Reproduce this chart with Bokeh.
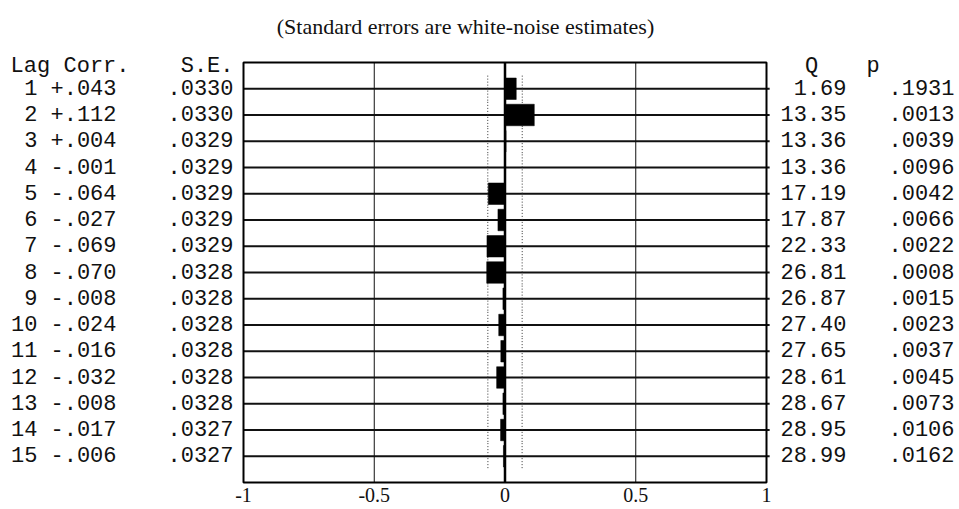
from bokeh.plotting import figure
from bokeh.models import Range1d, ColumnDataSource
from bokeh.core.properties import value
from bokeh.embed import file_html
from bokeh.resources import INLINE

# ---------------- data ----------------
lags = list(range(1, 16))
corr = [0.043, 0.112, 0.004, -0.001, -0.064, -0.027, -0.069, -0.070,
        -0.008, -0.024, -0.016, -0.032, -0.008, -0.017, -0.006]
std_err = [0.0330, 0.0330, 0.0329, 0.0329, 0.0329, 0.0329, 0.0329, 0.0328,
           0.0328, 0.0328, 0.0328, 0.0328, 0.0328, 0.0327, 0.0327]
q_stat = [1.69, 13.35, 13.36, 13.36, 17.19, 17.87, 22.33, 26.81,
          26.87, 27.40, 27.65, 28.61, 28.67, 28.95, 28.99]
p_val = [0.1931, 0.0013, 0.0039, 0.0096, 0.0042, 0.0066, 0.0022, 0.0008,
         0.0015, 0.0023, 0.0037, 0.0045, 0.0073, 0.0106, 0.0162]
tick_values = [-1, -0.5, 0, 0.5, 1]
tick_labels = ["-1", "-0.5", "0", "0.5", "1"]
title_text = "(Standard errors are white-noise estimates)"
header_lag = "Lag"
header_corr = "Corr."
header_se = "S.E."
header_q = "Q"
header_p = "p"

# ---------------- layout helpers (page px -> data) ----------------
ORG = 0                    # page offset of the figure (observed)
W, H = 956, 506
X0, XS = 504.5, 261.5     # page x of corr=0, px per unit
Y0, YS = 62.0, 26.25      # page y of row 0, px per row


def px(xp):
    return (xp - X0) / XS


def py(yp):
    return (yp - Y0) / YS


n = len(lags)
p = figure(width=W, height=H, output_backend="svg", toolbar_location=None,
           x_range=Range1d(px(ORG), px(ORG + W)), y_range=Range1d(py(ORG + H), py(ORG)),
           x_axis_type=None, y_axis_type=None, min_border=0,
           outline_line_color=None, background_fill_color="white",
           border_fill_color="white")
p.xgrid.visible = False
p.ygrid.visible = False

ink = "#111111"
mono = value("Liberation Mono")
serif = value("Liberation Serif")

# ---------------- chart box ----------------
top_r, bot_r = 0, n + 1
# vertical grid lines at +-0.5
p.segment(x0=[-0.5, 0.5], x1=[-0.5, 0.5], y0=[top_r, top_r], y1=[bot_r, bot_r],
          line_color=ink, line_width=1)
# row lines
p.segment(x0=[-1] * n, x1=[1.012] * n, y0=lags, y1=lags, line_color=ink, line_width=2)
# +-2 SE dotted bounds
se2 = [2 * s for s in std_err]
p.segment(x0=se2, x1=se2, y0=[l - 0.5 for l in lags], y1=[l + 0.5 for l in lags],
          line_color="#333333", line_width=1, line_dash="1 2")
p.segment(x0=[-v for v in se2], x1=[-v for v in se2], y0=[l - 0.5 for l in lags],
          y1=[l + 0.5 for l in lags], line_color="#333333", line_width=1, line_dash="1 2")
# bars
bars = ColumnDataSource(dict(left=[min(0, c) for c in corr], right=[max(0, c) for c in corr],
                             top=[l - 0.41 for l in lags], bottom=[l + 0.41 for l in lags]))
p.quad(left="left", right="right", top="top", bottom="bottom", source=bars,
       fill_color="black", line_color="black", line_width=0.5)
# zero line
p.segment(x0=[0], x1=[0], y0=[top_r], y1=[bot_r], line_color="black", line_width=2.5)
# frame box
p.quad(left=[-1], right=[1], top=[top_r], bottom=[bot_r], fill_color=None,
       line_color="black", line_width=2)

# ---------------- texts ----------------
fs = "22px"
row_y = [l - 0.05 for l in lags]
hdr_y = 0.17

lag_txt = [str(l) for l in lags]
corr_txt = [("%+.3f" % c).replace("0.", ".", 1) for c in corr]
se_txt = [("%.4f" % s)[1:] for s in std_err]
q_txt = ["%.2f" % q for q in q_stat]
p_txt = [("%.4f" % v)[1:] for v in p_val]


def col(x, y, txt, align, font=mono, size=fs):
    p.text(x=x, y=y, text=txt, text_font=font, text_font_size=size,
           text_align=align, text_baseline="middle", text_color=ink)


col([px(37)] * n, row_y, lag_txt, "right")
col([px(50)] * n, row_y, corr_txt, "left")
col([px(233)] * n, row_y, se_txt, "right")
col([px(846)] * n, row_y, q_txt, "right")
col([px(954)] * n, row_y, p_txt, "right")

col([px(10)], [hdr_y], [header_lag], "left")
col([px(63)], [hdr_y], [header_corr], "left")
col([px(233)], [hdr_y], [header_se], "right")
col([px(811)], [hdr_y], [header_q], "center")
col([px(866)], [hdr_y], [header_p], "left")

# x tick labels
col(tick_values, [py(494)] * len(tick_values), tick_labels, "center", serif, "20px")

# title
col([px(465)], [py(26)], [title_text], "center", serif, "22px")

open("out.html", "w").write(file_html(p, INLINE))
